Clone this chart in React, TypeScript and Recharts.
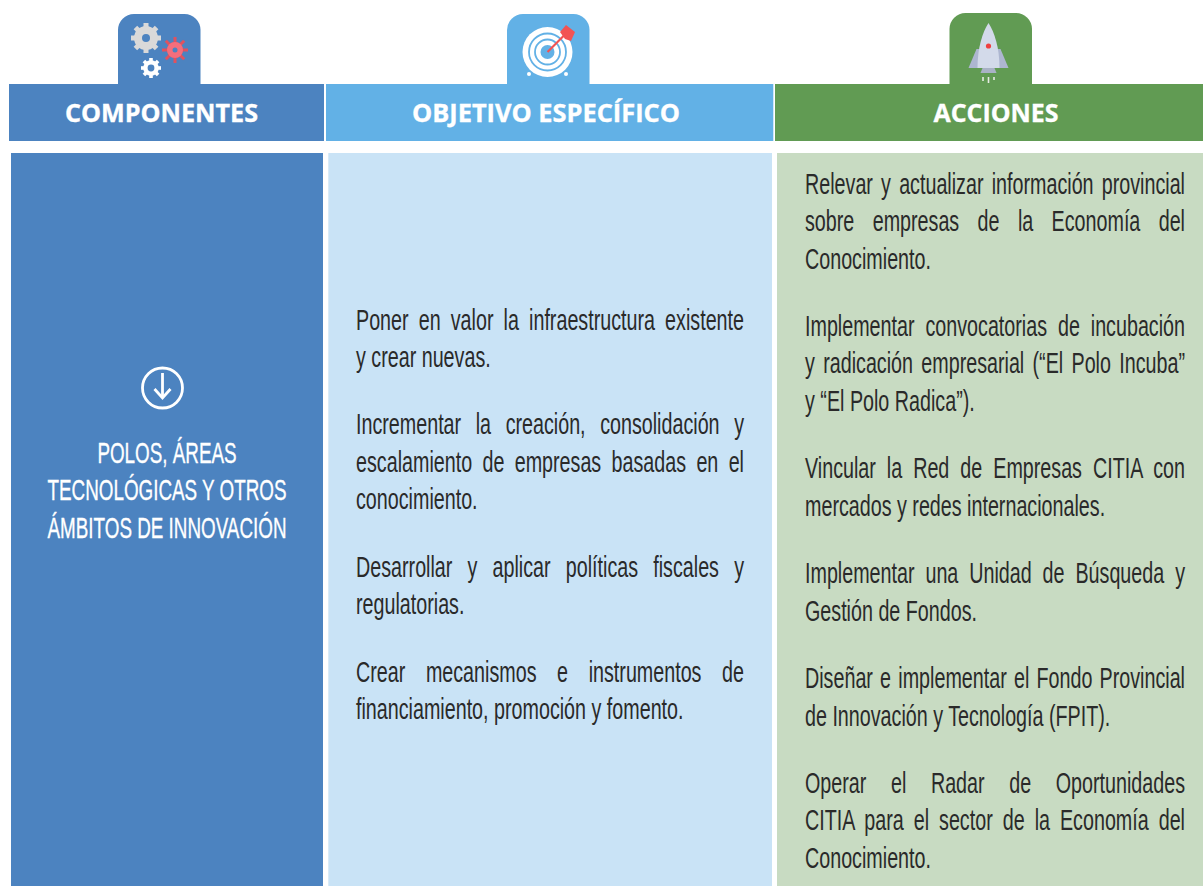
import { useLayoutEffect, useRef } from 'react';
import { ComposedChart, XAxis, YAxis, ReferenceArea, ReferenceDot, Scatter } from 'recharts';

const headers = ['COMPONENTES', 'OBJETIVO ESPECÍFICO', 'ACCIONES'];

const componentLines = ['POLOS, ÁREAS', 'TECNOLÓGICAS Y OTROS', 'ÁMBITOS DE INNOVACIÓN'];

const objetivos = [
  ['Poner en valor la infraestructura existente', 'y crear nuevas.'],
  ['Incrementar la creación, consolidación y', 'escalamiento de empresas basadas en el', 'conocimiento.'],
  ['Desarrollar y aplicar políticas fiscales y', 'regulatorias.'],
  ['Crear mecanismos e instrumentos de', 'financiamiento, promoción y fomento.'],
];

const acciones = [
  ['Relevar y actualizar información provincial', 'sobre empresas de la Economía del', 'Conocimiento.'],
  ['Implementar convocatorias de incubación', 'y radicación empresarial (“El Polo Incuba”', 'y “El Polo Radica”).'],
  ['Vincular la Red de Empresas CITIA con', 'mercados y redes internacionales.'],
  ['Implementar una Unidad de Búsqueda y', 'Gestión de Fondos.'],
  ['Diseñar e implementar el Fondo Provincial', 'de Innovación y Tecnología (FPIT).'],
  ['Operar el Radar de Oportunidades', 'CITIA para el sector de la Economía del', 'Conocimiento.'],
];

const W = 1203;
const H = 886;
const BODY_FONT = '"Liberation Sans Narrow", "Liberation Sans", sans-serif';
const BODY_SIZE = 29;
const SQUEEZE = 0.68;
const TITLE_SQUEEZE = 0.65;
const LINE_STEP = 37.55;
const PARA_STEP = 67.3;

function BodyLine({ cx, cy, text, width, justify, fill = '#2a2a2a', anchor = 'start', squeeze = SQUEEZE, bold = 0 }: any) {
  const ref = useRef<SVGTextElement>(null);
  useLayoutEffect(() => {
    const el = ref.current;
    if (!el || !justify) return;
    const spaces = text.split(' ').length - 1;
    const natural = el.getComputedTextLength();
    el.style.wordSpacing = `${(width / squeeze - natural) / spaces}px`;
  }, [text, width, justify, squeeze]);
  return (
    <text
      ref={ref}
      transform={`translate(${cx} ${cy + 9.5}) scale(${squeeze} 1)`}
      fontFamily={BODY_FONT}
      fontSize={BODY_SIZE}
      fill={fill}
      stroke={bold ? fill : 'none'}
      strokeWidth={bold}
      textAnchor={anchor}
    >
      {text}
    </text>
  );
}

// one row per text line, placed by the chart's scales
function paragraphRows(paras: string[][], left: number, width: number, top: number) {
  const rows: any[] = [];
  let y = top;
  paras.forEach((para) => {
    para.forEach((line, i) => {
      rows.push({ x: left, y, text: line, width, justify: i < para.length - 1 });
      if (i < para.length - 1) y += LINE_STEP;
    });
    y += PARA_STEP;
  });
  return rows;
}

const textRows = [...paragraphRows(objetivos, 356, 388, 320), ...paragraphRows(acciones, 805, 380, 184)];
const componentRows = componentLines.map((text, i) => ({ x: 167, y: 453 + i * LINE_STEP, text }));

function Gear({ cx, cy, r, teeth, color, hole, holeColor, toothLen, toothW }: any) {
  const angles = Array.from({ length: teeth }, (_, i) => (360 / teeth) * i);
  return (
    <g transform={`translate(${cx} ${cy})`}>
      {angles.map((a) => (
        <rect
          key={a}
          x={-toothW / 2}
          y={-(r + toothLen)}
          width={toothW}
          height={toothLen + 2}
          fill={color}
          transform={`rotate(${a})`}
        />
      ))}
      <circle r={r} fill={color} />
      <circle r={hole} fill={holeColor} />
    </g>
  );
}

function GearsIcon({ cx, cy }: any) {
  return (
    <g>
      <Gear cx={cx} cy={cy} r={12} teeth={8} color="#d9d9d9" hole={4} holeColor="#4c83c0" toothLen={3} toothW={5} />
      <Gear cx={cx + 29} cy={cy + 12} r={8} teeth={8} color="#e0525f" hole={2.5} holeColor="#4c83c0" toothLen={5} toothW={3} />
      <circle cx={cx + 29} cy={cy + 12} r={8} fill="#f46e7c" />
      <circle cx={cx + 29} cy={cy + 12} r={2.5} fill="#4c83c0" />
      <Gear cx={cx + 5} cy={cy + 30} r={7.8} teeth={8} color="#ffffff" hole={3.4} holeColor="#4c83c0" toothLen={2.2} toothW={3.6} />
    </g>
  );
}

function TargetIcon({ cx, cy }: any) {
  const blue = '#62b1e6';
  return (
    <g>
      <circle cx={cx - 18.5} cy={cy + 22} r={2} fill="#fff" />
      <circle cx={cx + 18.5} cy={cy + 22} r={2} fill="#fff" />
      <circle cx={cx} cy={cy} r={25} fill="#fff" />
      <circle cx={cx} cy={cy} r={18.5} fill="none" stroke={blue} strokeWidth={1.8} />
      <circle cx={cx} cy={cy} r={12.5} fill="none" stroke={blue} strokeWidth={1.8} />
      <circle cx={cx} cy={cy} r={7} fill={blue} />
      <line x1={cx} y1={cy} x2={cx + 17} y2={cy - 17} stroke="#f25353" strokeWidth={2.2} />
      <path
        d={`M${cx + 12.5} ${cy - 20} L${cx + 18.5} ${cy - 27} L${cx + 27.5} ${cy - 20} L${cx + 23.5} ${cy - 11} L${cx + 17.5} ${cy - 13} Z`}
        fill="#f25353"
      />
    </g>
  );
}

function RocketIcon({ cx, cy }: any) {
  return (
    <g>
      <path d={`M${cx - 12} ${cy + 3} L${cx - 20} ${cy + 22} H${cx + 20} L${cx + 12} ${cy + 3} Z`} fill="#adb6d0" />
      <path d={`M${cx} ${cy - 23} C${cx + 6} ${cy - 14} ${cx + 11} ${cy + 2} ${cx + 11} ${cy + 22} H${cx - 11} C${cx - 11} ${cy + 2} ${cx - 6} ${cy - 14} ${cx} ${cy - 23} Z`} fill="#d3daea" />
      <path d={`M${cx - 6} ${cy + 22} H${cx + 6} L${cx + 8} ${cy + 27} H${cx - 8} Z`} fill="#a9b2c6" />
      <circle cx={cx} cy={cy} r={2.6} fill="#ef4040" />
      <line x1={cx - 5.5} y1={cy + 31} x2={cx - 5.5} y2={cy + 35} stroke="#e6ece4" strokeWidth={1.6} />
      <line x1={cx} y1={cy + 31} x2={cx} y2={cy + 37} stroke="#e6ece4" strokeWidth={1.6} />
      <line x1={cx + 5.5} y1={cy + 31} x2={cx + 5.5} y2={cy + 34} stroke="#e6ece4" strokeWidth={1.6} />
    </g>
  );
}

function ArrowIcon({ cx, cy }: any) {
  return (
    <g fill="none" stroke="#fff" strokeWidth={2.8}>
      <circle cx={cx} cy={cy} r={20} />
      <path d={`M${cx} ${cy - 15} V${cy + 10}`} />
      <path d={`M${cx - 8} ${cy + 1} L${cx} ${cy + 10} L${cx + 8} ${cy + 1}`} />
    </g>
  );
}

function HeaderLabel({ cx, cy, text, width }: any) {
  return (
    <text
      x={cx}
      y={cy + 9}
      textAnchor="middle"
      fontFamily='"Open Sans", sans-serif'
      fontWeight={700}
      fontSize={25.5}
      fill="#fff"
      stroke="#fff"
      strokeWidth={0.35}
      textLength={width}
      lengthAdjust="spacingAndGlyphs"
    >
      {text}
    </text>
  );
}

const area = (x1: number, x2: number, y1: number, y2: number, fill: string, radius?: number[]) => (
  <ReferenceArea
    key={`${x1}-${y1}`}
    x1={x1}
    x2={x2}
    y1={y1}
    y2={y2}
    ifOverflow="visible"
    fill={fill}
    fillOpacity={1}
    stroke="none"
    radius={radius as any}
  />
);

export default function App() {
  return (
    <div style={{ position: 'absolute', left: 0, top: 0, width: W, height: H, background: '#fff' }}>
      <ComposedChart width={W} height={H} margin={{ top: 0, right: 0, bottom: 0, left: 0 }}>
        <XAxis type="number" dataKey="x" domain={[0, W]} allowDataOverflow hide />
        <YAxis type="number" dataKey="y" domain={[0, H]} allowDataOverflow reversed hide />

        {area(118, 200.5, 14, 85, '#4c83c0', [16, 16, 0, 0])}
        {area(507, 589.5, 14, 85, '#62b1e6', [16, 16, 0, 0])}
        {area(949.5, 1032, 13, 85, '#619b53', [16, 16, 0, 0])}

        {area(9, 324, 84, 141, '#4c83c0')}
        {area(326, 773.3, 84, 141, '#62b1e6')}
        {area(775, W, 84, 141, '#619b53')}

        {area(11, 323, 153, H, '#4c83c0')}
        {area(328.3, 772, 153, H, '#c9e3f6')}
        {area(777, W, 153, H, '#c8dbc2')}

        <ReferenceDot x={146} y={38} ifOverflow="visible" shape={(p: any) => <GearsIcon cx={p.cx} cy={p.cy} />} />
        <ReferenceDot x={547.5} y={52} ifOverflow="visible" shape={(p: any) => <TargetIcon cx={p.cx} cy={p.cy} />} />
        <ReferenceDot x={988.5} y={46} ifOverflow="visible" shape={(p: any) => <RocketIcon cx={p.cx} cy={p.cy} />} />
        <ReferenceDot x={162.5} y={388} ifOverflow="visible" shape={(p: any) => <ArrowIcon cx={p.cx} cy={p.cy} />} />

        <ReferenceDot x={161.5} y={113} ifOverflow="visible" shape={(p: any) => <HeaderLabel cx={p.cx} cy={p.cy} text={headers[0]} width={193} />} />
        <ReferenceDot x={546} y={113} ifOverflow="visible" shape={(p: any) => <HeaderLabel cx={p.cx} cy={p.cy} text={headers[1]} width={268} />} />
        <ReferenceDot x={996} y={113} ifOverflow="visible" shape={(p: any) => <HeaderLabel cx={p.cx} cy={p.cy} text={headers[2]} width={125} />} />

        <Scatter
          data={componentRows}
          isAnimationActive={false}
          shape={(p: any) => (
            <BodyLine cx={p.cx} cy={p.cy} text={p.payload.text} fill="#fff" anchor="middle" squeeze={TITLE_SQUEEZE} bold={0.35} />
          )}
        />
        <Scatter
          data={textRows}
          isAnimationActive={false}
          shape={(p: any) => (
            <BodyLine cx={p.cx} cy={p.cy} text={p.payload.text} width={p.payload.width} justify={p.payload.justify} />
          )}
        />
      </ComposedChart>
    </div>
  );
}
